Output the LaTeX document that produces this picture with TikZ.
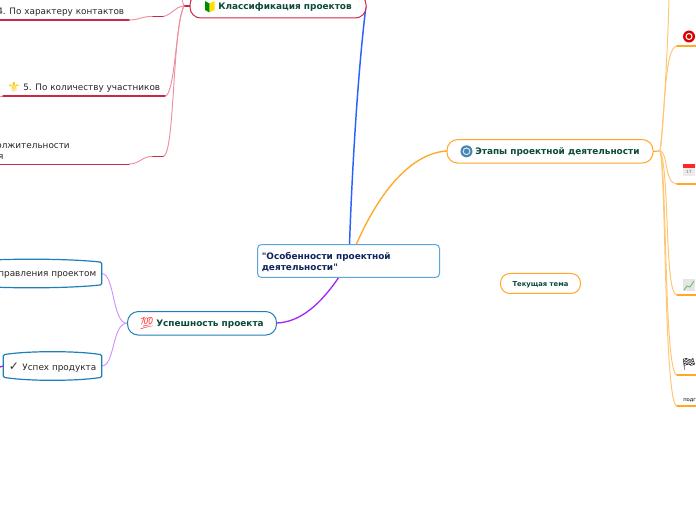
\documentclass[tikz,border=0pt]{standalone}
\usepackage{fontspec}
\setmainfont{DejaVu Sans}
\newfontfamily\plainfont{DejaVu Sans}
\newfontfamily\emojifont{Noto Emoji}
\usetikzlibrary{calc,positioning}
\definecolor{rootblue}{HTML}{5AA5DC}
\definecolor{rootink}{HTML}{10245C}
\definecolor{topicink}{HTML}{0B4A3A}
\definecolor{crimson}{HTML}{C8284A}
\definecolor{crimsonpale}{HTML}{EC8FA0}
\definecolor{orangemain}{HTML}{FFA726}
\definecolor{orangepale}{HTML}{FFC675}
\definecolor{linkblue}{HTML}{2962FF}
\definecolor{linkviolet}{HTML}{A626F5}
\definecolor{violetpale}{HTML}{D092FF}
\definecolor{tealbox}{HTML}{1F7FB8}
\begin{document}
\begin{tikzpicture}[x=0.75pt,y=-0.75pt,
  topicfont/.style={font=\fontsize{6.7pt}{8.2pt}\selectfont\bfseries,text=topicink},
  subfont/.style={font=\fontsize{6.65pt}{8.25pt}\selectfont,text=black!85},
  pill/.style={draw,line width=0.75pt,rounded corners=8pt,fill=white,inner sep=0pt},
  subtext/.style={subfont,inner sep=0pt,anchor=west},
  barbox/.style={subfont,inner sep=0pt},
  bulge/.style={draw=tealbox,line width=0.9pt,fill=white,rounded corners=1pt},
  branch/.style={line width=0.7pt},
  rule/.style={line width=1.1pt,line cap=round}]
  \useasboundingbox (0,0) rectangle (696,520);
  \clip (0,0) rectangle (696,520);

  % main links, drawn first so that the boxes cover their ends
  \coordinate (klassend) at (366,6);
  \coordinate (rootup) at (349.5,245);
  \coordinate (rootorange) at (356,245);
  \coordinate (rootdown) at (339,277);
  \draw[linkblue,line width=1.1pt] (rootup) .. controls (352,170) and (358,70) .. (klassend);
  \draw[orangemain,line width=1pt] (rootorange) .. controls (380,190) and (412,153) .. (447,151);
  \draw[linkviolet,line width=1pt] (rootdown) .. controls (320,305) and (300,322) .. (277,323);

  % central topic
  \node[draw=rootblue,line width=0.75pt,rounded corners=3pt,fill=white,minimum width=136.5pt,minimum height=24.7pt,
    inner sep=0pt] (root) at (348.5,261) {};
  \node[topicfont,text=rootink,align=left,anchor=west,inner sep=0pt] (roottext) at (261.5,261.7)
    {\plainfont\bfseries "Особенности проектной\\\plainfont\bfseries деятельности"};

  % main topics
  \node[pill,draw=crimson,minimum width=132pt,minimum height=18pt,topicfont] (klass) at (278,6) {};
  \node[topicfont,anchor=west,inner sep=0pt] (klasstext) at (218,7) {Классификация проектов};
  \node[pill,draw=orangemain,minimum width=154.5pt,minimum height=17.6pt] (etapy) at (550,151.3) {};
  \node[topicfont,anchor=west,inner sep=0pt] (etapytext) at (475,152.3) {Этапы проектной деятельности};
  \node[pill,draw=tealbox,minimum width=111.7pt,minimum height=17.6pt] (uspesh) at (202,323.3) {};
  \node[topicfont,anchor=west,inner sep=0pt] (uspeshtext) at (156,324.3) {Успешность проекта};
  \node[pill,draw=orangemain,minimum width=60pt,minimum height=15pt,rounded corners=7pt] (current) at (540.5,283.5) {};
  \node[font=\fontsize{5.1pt}{6pt}\selectfont\bfseries,text=topicink,inner sep=0pt] (currenttext) at (540.5,284.3) {Текущая тема};

  % left side, first branch
  \node[subtext] (contacts) at (-3,11.8) {4. По характеру контактов};
  \node[subtext] (people) at (23,87.8) {5. По количеству участников};
  \node[subfont,align=left,anchor=west,inner sep=0pt] (length) at (-54,151)
    {6. По продолжительности\\выполнения};
  \coordinate (stubk) at (184,6);
  \draw[crimson,line width=0.9pt] (stubk) -- (klass.west);
  \coordinate (stubcontacts) at (163,16.5);
  \coordinate (stublength) at (163,156.5);
  \draw[crimsonpale,branch] (stubk) .. controls (174,7) and (172,15) .. (stubcontacts);
  \draw[crimsonpale,branch] (stubcontacts) ++(-10,0) .. controls (142,16) and (140,20) .. (129,20);
  \draw[crimsonpale,branch] (stubk) .. controls (176,20) and (175,96) .. (165,96);
  \draw[crimsonpale,branch] (stubk) .. controls (172,30) and (175,156) .. (stublength);
  \draw[crimsonpale,branch] (stublength) ++(-10,0) .. controls (142,156) and (140,164) .. (129,164);
  \draw[crimsonpale,branch] (stubk) -- (182,0);
  \draw[crimson,rule] (stubcontacts) -- ++(-10,0);
  \draw[crimson,rule] (stublength) -- ++(-10,0);
  \draw[crimson,rule] (0,20) -- (129,20);
  \draw[crimsonpale,branch] (0,96) -- (3,96);
  \draw[crimson,rule] (3,96) -- (165,96);
  \draw[crimson,rule] (0,164.5) -- (129,164.5);

  % left side, second branch
  \node[barbox,minimum width=105pt,minimum height=16.5pt] (manage) at (31.5,273.5) {};
  \node[barbox,minimum width=73.5pt,minimum height=16.5pt] (product) at (52.5,366) {};
  \draw[violetpale,branch] (uspesh.west) .. controls (112,323) and (115,274) .. (manage.east);
  \draw[violetpale,branch] (uspesh.west) .. controls (112,323) and (115,366) .. (product.east);
  \draw[linkviolet,line width=1pt] (0,367) -- (product.west);
  \draw[bulge] (manage.north west) .. controls +(35,-4) and +(-35,-4) .. (manage.north east) -- (manage.south east)
    .. controls +(-35,4) and +(35,4) .. (manage.south west) -- cycle;
  \draw[bulge] (product.north west) .. controls +(25,-4) and +(-25,-4) .. (product.north east) -- (product.south east)
    .. controls +(-25,4) and +(25,4) .. (product.south west) -- cycle;
  \node[subfont,anchor=east,inner sep=0pt] (managetext) at (96.5,275) {управления проектом};
  \node[subfont,anchor=east,inner sep=0pt] (producttext) at (96.5,367.8) {Успех продукта};

  % right side
  \coordinate (stube) at (660,151);
  \coordinate (goal) at (677,46);
  \coordinate (plan) at (677,184);
  \coordinate (growth) at (677,295);
  \coordinate (finish) at (677,375);
  \coordinate (prep) at (677,406);
  \coordinate (above) at (669,-1);
  \draw[orangemain,line width=0.9pt] (etapy.east) -- (stube);
  \foreach \tip/\ax/\ay/\bx/\by in {above/664/120/668/40,goal/665/120/664/46,plan/668/151/664/184,
    growth/670/170/664/295,finish/667/170/664/375,prep/666/170/664/406}
    \draw[orangepale,line width=0.75pt] (stube) .. controls (\ax,\ay) and (\bx,\by) .. (\tip);
  \foreach \tip in {goal,plan,growth,finish,prep}
    \draw[orangemain,rule] (\tip) -- ++(20,0);
  \node[font=\fontsize{3.9pt}{4pt}\selectfont,anchor=west,inner sep=0pt] (preptext) at (683,400.5) {подготовка};

  % icons
  \node[circle,fill=rootblue!80!black,minimum size=9pt,inner sep=0pt] (iconetapy) at (466.5,151.3) {};
  \node[circle,draw=rootblue!30,line width=0.8pt,minimum size=5pt,inner sep=0pt] (iconetapyin) at (466.5,151.3) {};
  \node[circle,fill=red!85!black,minimum size=9pt,inner sep=0pt] (icongoal) at (689,36.5) {};
  \node[circle,draw=white,line width=0.8pt,minimum size=4.5pt,inner sep=0pt] (icongoalin) at (689,36.5) {};
  \fill[green!55!black] (205,1) -- (209.5,3.5) -- (209.5,12.5) -- (205,10) -- cycle;
  \fill[yellow!85!orange] (214.5,1) -- (209.5,3.5) -- (209.5,12.5) -- (214.5,10) -- cycle;
  \node[font=\fontsize{11pt}{11pt}\selectfont,text=orange!45!yellow,inner sep=0pt] (iconpeople) at (14,87) {⚜};
  \node[font=\emojifont\fontsize{9pt}{9pt}\selectfont,text=red!75,inner sep=0pt] (iconuspesh) at (147,323) {💯};
  \node[font=\fontsize{9pt}{9pt}\selectfont,text=black!80,inner sep=0pt] (iconcheck) at (14,367) {✓};
  \node[font=\emojifont\fontsize{9pt}{9pt}\selectfont,text=black!80,inner sep=0pt] (iconflag) at (689,364.5) {🏁};
  % calendar and chart
  \fill[black!8] (683,164) rectangle (695,176);
  \fill[red!85] (683,164) rectangle (695,168);
  \node[font=\fontsize{3pt}{3pt}\selectfont,text=black!60,inner sep=0pt] (iconplan) at (689,172) {17};
  \fill[black!10] (683,279.5) rectangle (695,291.5);
  \draw[green!60!black!60,line width=0.7pt] (684,290) -- (687,286) -- (690,287) -- (694,281);
\end{tikzpicture}
\end{document}
